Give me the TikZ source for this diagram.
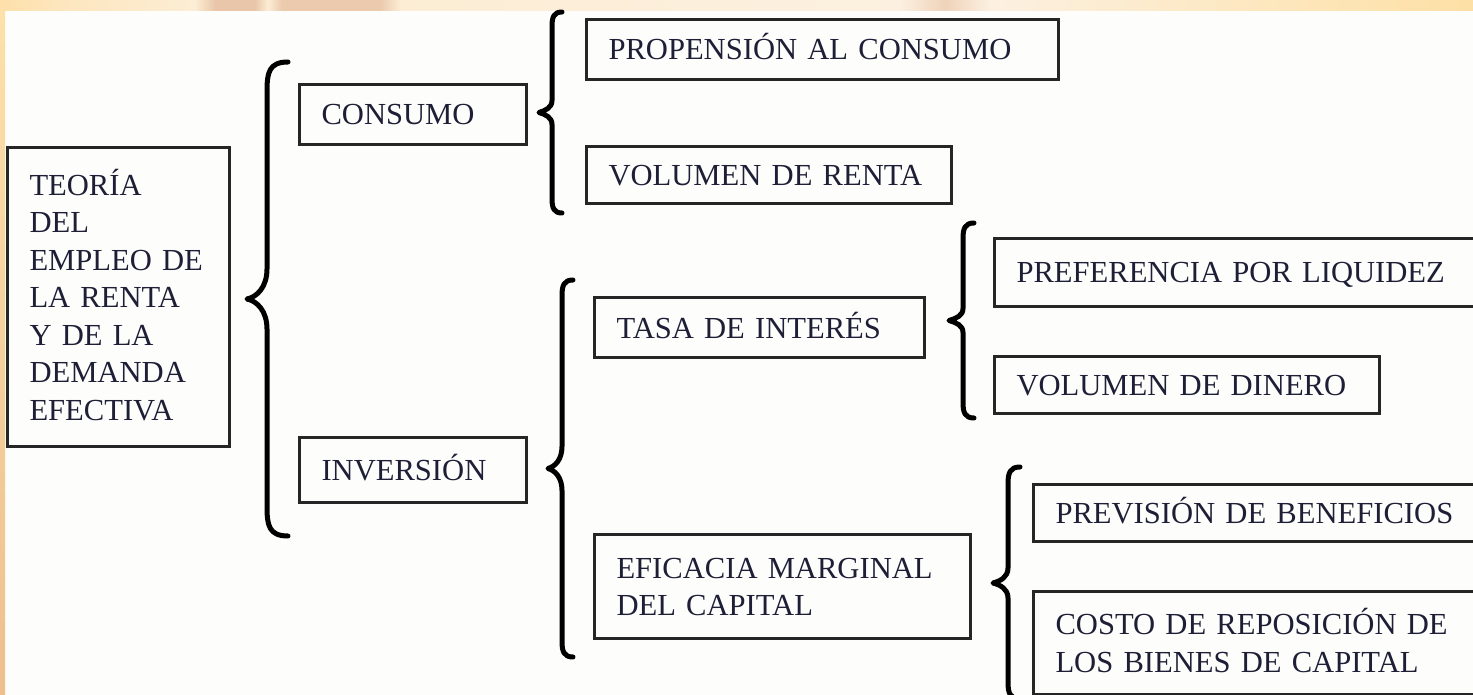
\documentclass[tikz,border=0pt]{standalone}
\usepackage{fontspec}
\setmainfont{Liberation Serif}
\definecolor{txt}{RGB}{30,30,55}
\definecolor{bgwhite}{RGB}{253,254,251}
\definecolor{stripA}{RGB}{253,224,170}
\definecolor{stripB}{RGB}{253,230,190}
\definecolor{stripC}{RGB}{252,237,212}
\definecolor{peach}{RGB}{233,198,170}
\definecolor{stripD}{RGB}{252,240,224}
\definecolor{stripE}{RGB}{253,224,165}
\definecolor{leftB}{RGB}{237,192,142}
\tikzset{
  box/.style={draw=black!85, line width=3pt, anchor=north west, inner xsep=22pt,
    inner ysep=0pt, align=left, text=txt, font=\fontsize{30.6}{37.5}\selectfont,
    text height=21pt, text depth=0pt},
  bracestyle/.style={line width=5pt, line cap=round, line join=round, draw=black}
}
% x, top, bottom, depth, tiphalf, curl
\newcommand\drawbrace[6]{%
  \draw[bracestyle] ({#1+#6},#2) .. controls ({#1+2},#2) and (#1,{#2+#6*0.5}) .. (#1,{#2+#6*1.4})
    -- (#1,{(#2+#3)/2-#5})
    .. controls (#1,{(#2+#3)/2-#5*0.4}) and ({#1-#4*0.5},{(#2+#3)/2-2}) .. ({#1-#4},{(#2+#3)/2})
    .. controls ({#1-#4*0.5},{(#2+#3)/2+2}) and (#1,{(#2+#3)/2+#5*0.4}) .. (#1,{(#2+#3)/2+#5})
    -- (#1,{#3-#6*1.4})
    .. controls (#1,{#3-#6*0.5}) and ({#1+2},#3) .. ({#1+#6},#3);
}
\begin{document}
\begin{tikzpicture}[x=1pt,y=-1pt]
\useasboundingbox (0,0) rectangle (1473,695);
% background
\fill[bgwhite] (0,0) rectangle (1473,695);
\shade[left color=stripA, right color=stripB] (0,0) rectangle (60,11);
\shade[left color=stripB, right color=stripC] (60,0) rectangle (195,11);
\shade[left color=stripC, right color=peach] (195,0) rectangle (215,11);
\fill[peach] (215,0) rectangle (255,11);
\shade[left color=peach, right color=stripC] (255,0) rectangle (268,11);
\shade[left color=stripC, right color=peach!90!stripC] (268,0) rectangle (282,11);
\fill[peach!90!stripC] (282,0) rectangle (380,11);
\shade[left color=peach!90!stripC, right color=stripC] (380,0) rectangle (400,11);
\shade[left color=stripC, right color=stripD] (400,0) rectangle (900,11);
\shade[left color=stripD, right color=peach!70!stripD] (900,0) rectangle (945,11);
\shade[left color=peach!70!stripD, right color=stripD] (945,0) rectangle (990,11);
\shade[left color=stripD, right color=stripE] (990,0) rectangle (1473,11);
\shade[top color=stripA, bottom color=leftB] (0,11) rectangle (5,695);

% boxes
\node[box, text width=178pt, minimum height=299pt, text depth=224pt] (teoria) at (6,146)
  {TEORÍA\\DEL\\EMPLEO DE\\LA RENTA\\Y DE LA\\DEMANDA\\EFECTIVA};
\node[box, text width=183pt, minimum height=60pt] (consumo) at (298,83) {CONSUMO};
\node[box, text width=183pt, minimum height=65pt] (inversion) at (298,436) {INVERSIÓN};
\node[box, text width=428pt, minimum height=60pt] (propension) at (585,18) {PROPENSIÓN AL CONSUMO};
\node[box, text width=321pt, minimum height=57pt] (volrenta) at (585,145) {VOLUMEN DE RENTA};
\node[box, text width=286pt, minimum height=60pt] (tasa) at (593,296) {TASA DE INTERÉS};
\node[box, text width=332pt, minimum height=104pt, text depth=37.5pt] (eficacia) at (593,533)
  {EFICACIA MARGINAL\\DEL CAPITAL};
\node[box, text width=453pt, minimum height=68pt] (preferencia) at (993,237) {PREFERENCIA POR LIQUIDEZ};
\node[box, text width=341pt, minimum height=57pt] (voldinero) at (993,355) {VOLUMEN DE DINERO};
\node[box, text width=404pt, minimum height=57pt] (prevision) at (1032,483) {PREVISIÓN DE BENEFICIOS};
\node[box, text width=404pt, minimum height=103pt, text depth=37.5pt] (costo) at (1032,590)
  {COSTO DE REPOSICIÓN DE\\LOS BIENES DE CAPITAL};

% braces
\drawbrace{267}{62}{536}{20}{30}{21}
\drawbrace{552}{12}{213}{13}{12}{10}
\drawbrace{562}{280}{657}{14}{22}{11}
\drawbrace{963}{223}{418}{14}{12}{11}
\drawbrace{1008}{467}{699}{15}{15}{12}
\end{tikzpicture}
\end{document}
